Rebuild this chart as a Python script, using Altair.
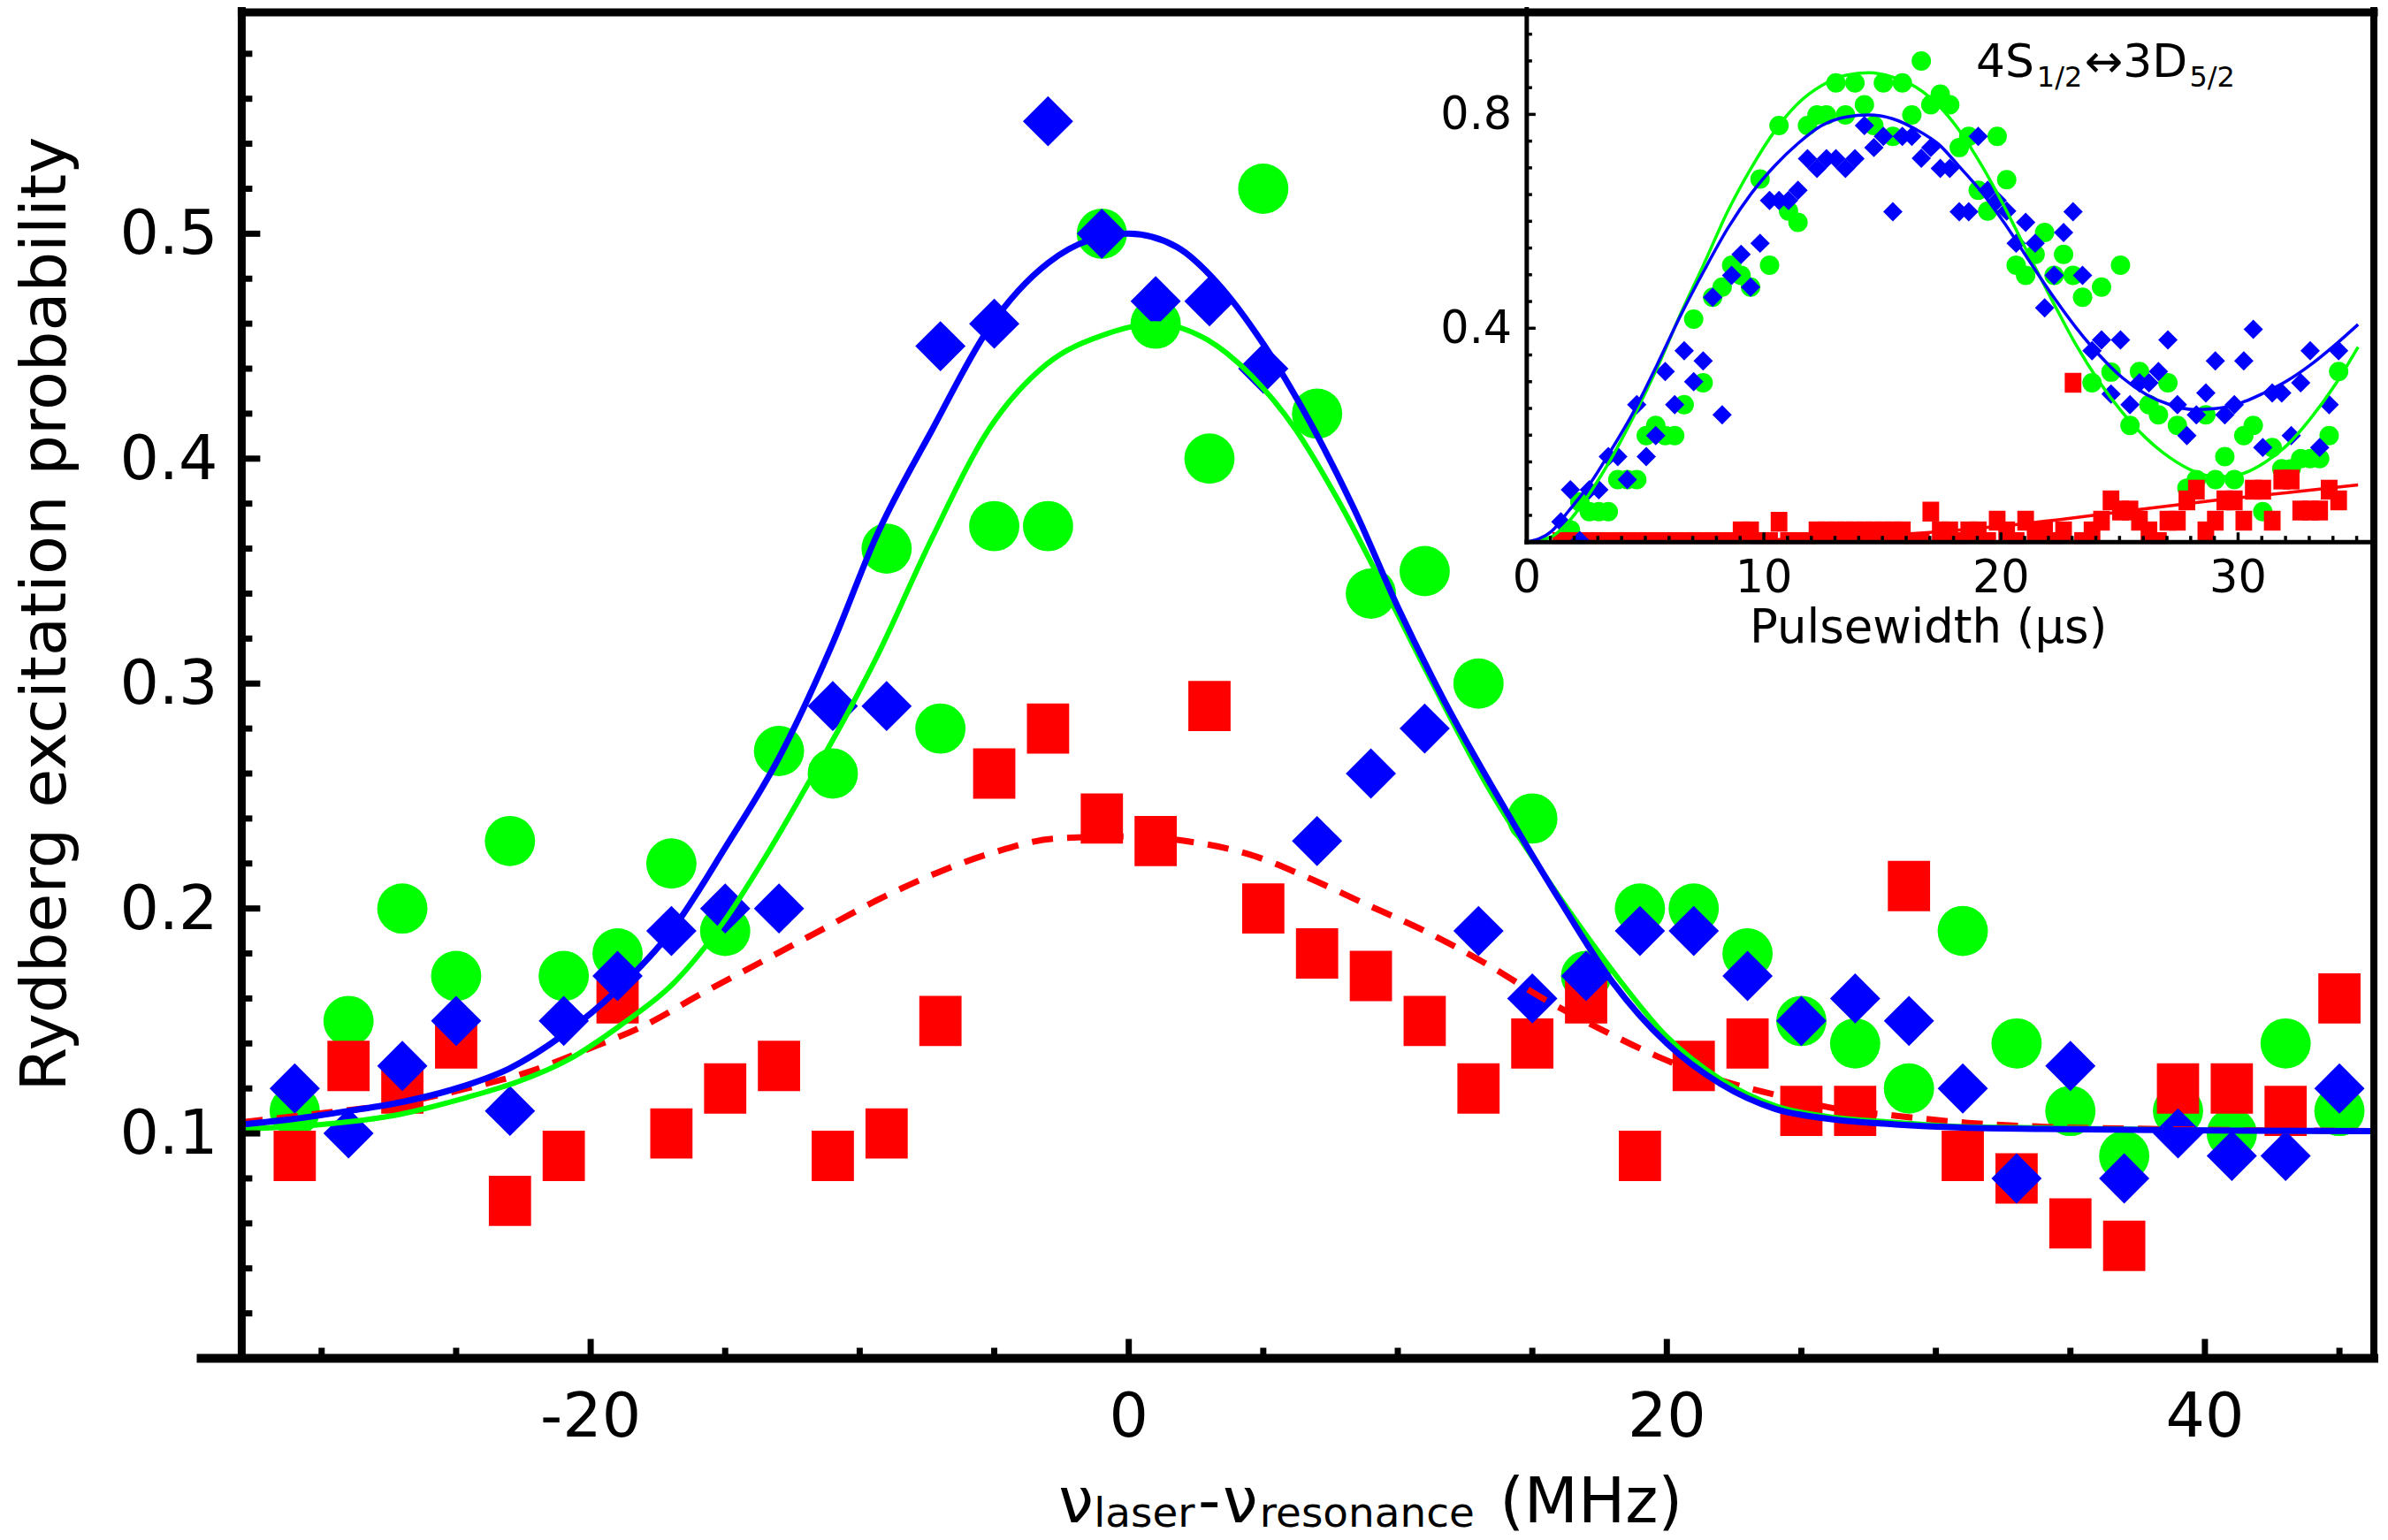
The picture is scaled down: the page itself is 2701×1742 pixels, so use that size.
import altair as alt
import pandas as pd

# ---------------- main panel: measured points ----------------
detuning = [-31, -29, -27, -25, -23, -21, -19, -17, -15, -13, -11, -9, -7, -5, -3, -1,
            1, 3, 5, 7, 9, 11, 13, 15, 17, 19, 21, 23, 25, 27, 29, 31, 33, 35, 37, 39, 41, 43, 45]
prob_green = [0.11, 0.15, 0.20, 0.17, 0.23, 0.17, 0.18, 0.22, 0.19, 0.27, 0.26, 0.36, 0.28, 0.37, 0.37, 0.50,
              0.46, 0.40, 0.52, 0.42, 0.34, 0.35, 0.30, 0.24, 0.17, 0.20, 0.20, 0.18, 0.15, 0.14, 0.12, 0.19,
              0.14, 0.11, 0.09, 0.11, 0.10, 0.14, 0.11]
prob_blue = [0.12, 0.10, 0.13, 0.15, 0.11, 0.15, 0.17, 0.19, 0.20, 0.20, 0.29, 0.29, 0.45, 0.46, 0.55, 0.50,
             0.47, 0.47, 0.44, 0.23, 0.26, 0.28, 0.19, 0.16, 0.17, 0.19, 0.19, 0.17, 0.15, 0.16, 0.15, 0.12,
             0.08, 0.13, 0.08, 0.10, 0.09, 0.09, 0.12]
prob_red = [0.09, 0.13, 0.12, 0.14, 0.07, 0.09, 0.16, 0.10, 0.12, 0.13, 0.09, 0.10, 0.15, 0.26, 0.28, 0.24,
            0.23, 0.29, 0.20, 0.18, 0.17, 0.15, 0.12, 0.14, 0.16, 0.09, 0.13, 0.14, 0.11, 0.11, 0.21, 0.09,
            0.08, 0.06, 0.05, 0.12, 0.12, 0.11, 0.16]

# ---------------- main panel: fitted curves ----------------
fit_blue_x = [-32.97, -31, -29, -27, -25, -23, -21, -19, -17, -15, -13, -11, -9.4, -7.3, -5.2, -3, -1.5, 0,
              1.8, 3.3, 5, 6.7, 8.4, 10, 11.7, 14, 16, 18, 20, 22, 24, 26, 28.5, 31, 34, 39, 46.28]
fit_blue_y = [0.104, 0.1065, 0.110, 0.114, 0.120, 0.129, 0.144, 0.164, 0.190, 0.227, 0.267, 0.318, 0.365,
              0.413, 0.458, 0.487, 0.497, 0.500, 0.494, 0.478, 0.451, 0.417, 0.377, 0.334, 0.293, 0.244,
              0.204, 0.167, 0.140, 0.122, 0.111, 0.1065, 0.104, 0.1026, 0.102, 0.1014, 0.101]
fit_green_x = [-32.97, -30, -27.3, -24.6, -22.7, -20.8, -18.9, -16.9, -15, -13.4, -11.8, -10.4, -9.4, -7.3,
               -5.2, -3.05, -0.94, 0.96, 2.9, 4.55, 6.2, 7.9, 9.6, 11.3, 13.4, 15.9, 18, 20, 22, 24.1, 26.3,
               28.4, 31, 33.9, 39, 46.28]
fit_green_y = [0.102, 0.104, 0.108, 0.116, 0.123, 0.133, 0.148, 0.167, 0.195, 0.225, 0.258, 0.288, 0.311,
               0.365, 0.413, 0.442, 0.455, 0.460, 0.453, 0.437, 0.413, 0.379, 0.340, 0.300, 0.253, 0.207,
               0.172, 0.143, 0.124, 0.112, 0.107, 0.105, 0.103, 0.1025, 0.1015, 0.101]
fit_red_x = [-32.97, -30, -27.3, -24.6, -22.4, -20.2, -18, -15.9, -13.7, -11.5, -9.3, -7.1, -5, -2.8, -0.3,
             2.1, 4.5, 6.7, 8.8, 11, 13.2, 15.4, 17.6, 19.7, 21.9, 24.1, 26.3, 28.4, 31.2, 33.9, 38, 46.28]
fit_red_y = [0.105, 0.109, 0.113, 0.120, 0.127, 0.137, 0.148, 0.162, 0.176, 0.190, 0.204, 0.216, 0.225,
             0.231, 0.232, 0.230, 0.224, 0.2135, 0.202, 0.190, 0.176, 0.160, 0.146, 0.134, 0.124, 0.117,
             0.111, 0.108, 0.1047, 0.103, 0.102, 0.101]

# ---------------- inset: Rabi oscillation data ----------------
pulse_t = [1.44, 1.84, 2.24, 2.64, 3.04, 3.44, 3.84, 4.24, 4.64, 5.04, 5.44, 5.84, 6.24, 6.64, 7.04, 7.44,
           7.84, 8.24, 8.64, 9.04, 9.44, 9.84, 10.24, 10.64, 11.04, 11.44, 11.84, 12.24, 12.64, 13.04, 13.44,
           13.84, 14.24, 14.64, 15.04, 15.44, 15.84, 16.24, 16.64, 17.04, 17.44, 17.84, 18.24, 18.64, 19.04,
           19.44, 19.84, 20.24, 20.64, 21.04, 21.44, 21.84, 22.24, 22.64, 23.04, 23.44, 23.84, 24.24, 24.64,
           25.04, 25.44, 25.84, 26.24, 26.64, 27.04, 27.44, 27.84, 28.24, 28.64, 29.04, 29.44, 29.84, 30.24,
           30.64, 31.04, 31.44, 31.84, 32.24, 32.64, 33.04, 33.44, 33.84, 34.24]
inset_blue = [0.038, 0.098, 0.003, 0.098, 0.098, 0.160, 0.160, 0.117, 0.257, 0.160,
              0.199, 0.319, 0.257, 0.358, 0.300, 0.339, 0.458, 0.238, 0.499, 0.538,
              0.477, 0.559, 0.639, 0.639, 0.639, 0.658, 0.717, 0.699, 0.717, 0.717,
              0.699, 0.717, 0.779, 0.738, 0.759, 0.618, 0.759, 0.759, 0.718, 0.738,
              0.699, 0.699, 0.618, 0.618, 0.759, 0.658, 0.639, 0.619, 0.559, 0.598,
              0.559, 0.438, 0.499, 0.579, 0.618, 0.499, 0.358, 0.378, 0.277, 0.378,
              0.257, 0.298, 0.298, 0.319, 0.378, 0.257, 0.199, 0.238, 0.279, 0.339,
              0.238, 0.257, 0.339, 0.398, 0.177, 0.279, 0.279, 0.199, 0.298, 0.358,
              0.177, 0.257, 0.358]
inset_green = [None, 0.023, 0.075, 0.057, 0.057, 0.057, 0.117, 0.117, 0.117, 0.199,
               0.218, 0.199, 0.199, 0.257, 0.417, 0.298, 0.458, 0.477, 0.518, 0.499,
               0.477, 0.679, 0.518, 0.779, 0.619, 0.598, 0.779, 0.799, 0.799, 0.859,
               0.799, 0.859, 0.818, 0.779, 0.859, 0.759, 0.859, 0.799, 0.900, 0.818,
               0.838, 0.818, 0.738, 0.759, 0.658, 0.619, 0.759, 0.678, 0.518, 0.499,
               0.538, 0.579, 0.499, 0.538, 0.499, 0.458, 0.298, 0.477, 0.318, 0.518,
               0.218, 0.319, 0.257, 0.238, 0.298, 0.218, 0.101, 0.117, 0.238, 0.117,
               0.160, 0.117, 0.199, 0.218, 0.057, 0.177, 0.137, 0.137, 0.156, 0.156,
               0.156, 0.199, 0.319]
inset_red = [0.0, 0.0, 0.0, 0.0, 0.0, 0.0, 0.0, 0.0, 0.0, 0.0,
             0.0, 0.0, 0.0, 0.0, 0.0, 0.0, 0.0, 0.0, 0.0, 0.02,
             0.02, 0.0, 0.0, 0.038, 0.0, 0.0, 0.0, 0.02, 0.02, 0.02,
             0.02, 0.02, 0.02, 0.02, 0.02, 0.02, 0.02, 0.0, 0.0, 0.057,
             0.02, 0.02, 0.0, 0.02, 0.02, 0.0, 0.04, 0.02, 0.0, 0.04,
             0.02, 0.02, 0.0, 0.02, 0.298, 0.0, 0.02, 0.04, 0.078, 0.059,
             0.059, 0.04, 0.02, 0.0, 0.04, 0.04, 0.078, 0.098, 0.02, 0.04,
             0.078, 0.078, 0.04, 0.098, 0.098, 0.04, 0.117, 0.117, 0.059, 0.059,
             0.059, 0.098, 0.078]

fit_in_t = [0, 1.04, 1.78, 2.65, 3.52, 4.51, 5.5, 6.49, 7.48, 8.48, 9.47, 10.46, 11.45, 12.44, 13.44, 14.43,
            15.42, 16.41, 17.4, 18.19, 19.18, 20.17, 21.16, 22.16, 23.15, 24.14, 25.13, 26.13, 27.12, 28.11,
            29.1, 30.1, 31.09, 32.08, 33.07, 34.07, 35.06]
fit_in_blue = [0, 0.02, 0.059, 0.108, 0.169, 0.244, 0.332, 0.424, 0.508, 0.587, 0.652, 0.704, 0.746, 0.779,
               0.795, 0.799, 0.792, 0.772, 0.743, 0.705, 0.655, 0.595, 0.528, 0.462, 0.402, 0.350, 0.307,
               0.276, 0.257, 0.248, 0.250, 0.260, 0.279, 0.302, 0.332, 0.368, 0.407]
fit_in_green = [0, 0.01, 0.039, 0.091, 0.153, 0.235, 0.326, 0.427, 0.521, 0.619, 0.700, 0.769, 0.821, 0.854,
                0.873, 0.878, 0.870, 0.851, 0.815, 0.773, 0.705, 0.625, 0.538, 0.452, 0.370, 0.300, 0.242,
                0.194, 0.158, 0.133, 0.122, 0.127, 0.148, 0.182, 0.232, 0.293, 0.365]
fit_in_red_t = [0, 5, 10, 14, 17, 20, 23, 26, 29, 32, 35.06]
fit_in_red = [0.0, 0.001, 0.004, 0.010, 0.018, 0.030, 0.045, 0.062, 0.078, 0.092, 0.107]

# ---------------- ticks and labels ----------------
main_y_major = [0.1, 0.2, 0.3, 0.4, 0.5]
main_y_labels = ["0.1", "0.2", "0.3", "0.4", "0.5"]
main_y_minor = [0.02, 0.04, 0.06, 0.08, 0.12, 0.14, 0.16, 0.18, 0.22, 0.24, 0.26, 0.28, 0.32, 0.34, 0.36,
                0.38, 0.42, 0.44, 0.46, 0.48, 0.52, 0.54, 0.56, 0.58]
main_x_major = [-20, 0, 20, 40]
main_x_labels = ["-20", "0", "20", "40"]
main_x_minor = [-30, -25, -15, -10, -5, 5, 10, 15, 25, 30, 35, 45]
inset_y_major = [0.4, 0.8]
inset_y_labels = ["0.4", "0.8"]
inset_y_minor = [0.05, 0.1, 0.15, 0.2, 0.25, 0.3, 0.35, 0.45, 0.5, 0.55, 0.6, 0.65, 0.7, 0.75, 0.85, 0.9, 0.95]
inset_x_major = [10, 20, 30]
inset_x_label_vals = [0, 10, 20, 30]
inset_x_labels = ["0", "10", "20", "30"]
inset_x_minor = [1, 2, 3, 4, 5, 6, 7, 8, 9, 11, 12, 13, 14, 15, 16, 17, 18, 19, 21, 22, 23, 24, 25, 26,
                 27, 28, 29, 31, 32, 33, 34, 35]

y_title = "Rydberg excitation probability"
x_title_parts = ["ν", "laser", "-", "ν", "resonance", "(MHz)"]
inset_title = "Pulsewidth (µs)"
inset_state_parts = ["4S", "1/2", "↔3D", "5/2"]

# ---------------- styling / geometry ----------------
W, H = 2417, 1530
FONT = "DejaVu Sans"
GREEN, BLUE, RED = "#00ff00", "#0000ff", "#ff0000"
RECT = "M-0.84,-1L0.84,-1L0.84,1L-0.84,1Z"

SX = alt.Scale(domain=[-32.97, 46.28], nice=False, zero=False)
SY = alt.Scale(domain=[0, 0.6], nice=False, zero=False)
IX0, IY0 = 1456.7, 604.6
IX = alt.Scale(domain=[0, 35], range=[IX0, 2397.5], nice=False, zero=False)
IY = alt.Scale(domain=[0, 1], range=[IY0, -1.5], nice=False, zero=False)

ONE = alt.Data(values=[{"k": 0}])


def enc(sx, sy):
    return dict(x=alt.X("x:Q", scale=sx, axis=None), y=alt.Y("y:Q", scale=sy, axis=None))


def points(xs, ys, shape, size, color, sx, sy):
    df = pd.DataFrame({"x": xs, "y": ys}).dropna()
    return alt.Chart(df).mark_point(shape=shape, size=size, filled=True, color=color, fill=color,
                                    opacity=1, fillOpacity=1, strokeWidth=0).encode(**enc(sx, sy))


def curve(xs, ys, color, width, sx, sy, dash=None):
    df = pd.DataFrame({"x": xs, "y": ys})
    kw = dict(color=color, strokeWidth=width, interpolate="monotone")
    if dash:
        kw["strokeDash"] = dash
    return alt.Chart(df).mark_line(**kw).encode(**enc(sx, sy))


def seg(x1, y1, x2, y2, width, cap="square"):
    return alt.Chart(ONE).mark_rule(color="black", strokeWidth=width, strokeCap=cap).encode(
        x=alt.value(x1), y=alt.value(y1), x2=alt.value(x2), y2=alt.value(y2))


def yticks(vals, sy, x0, length, width):
    return alt.Chart(pd.DataFrame({"v": vals})).mark_rule(color="black", strokeWidth=width).encode(
        y=alt.Y("v:Q", scale=sy, axis=None), x=alt.value(x0), x2=alt.value(x0 + length))


def xticks(vals, sx, y0, length, width):
    return alt.Chart(pd.DataFrame({"v": vals})).mark_rule(color="black", strokeWidth=width).encode(
        x=alt.X("v:Q", scale=sx, axis=None), y=alt.value(y0), y2=alt.value(y0 - length))


def ylabels(vals, texts, sy, x, font, size):
    df = pd.DataFrame({"v": vals, "t": texts})
    return alt.Chart(df).mark_text(font=font, fontSize=size, align="right", baseline="middle",
                                   color="black", dy=2).encode(
        y=alt.Y("v:Q", scale=sy, axis=None), x=alt.value(x), text="t:N")


def xlabels(vals, texts, sx, y, font, size):
    df = pd.DataFrame({"v": vals, "t": texts})
    return alt.Chart(df).mark_text(font=font, fontSize=size, align="center", baseline="alphabetic",
                                   color="black").encode(
        x=alt.X("v:Q", scale=sx, axis=None), y=alt.value(y), text="t:N")


def label(text, x, y, font, size, align="left", baseline="alphabetic", angle=None):
    kw = dict(font=font, fontSize=size, align=align, baseline=baseline, color="black")
    if angle is not None:
        kw["angle"] = angle
    return alt.Chart(alt.Data(values=[{"t": text}])).mark_text(**kw).encode(
        x=alt.value(x), y=alt.value(y), text="t:N")


main_layers = [
    points(detuning, prob_green, "circle", 3249, GREEN, SX, SY),
    points(detuning, prob_red, RECT, 3249, RED, SX, SY),
    points(detuning, prob_blue, "diamond", 3249, BLUE, SX, SY),
    curve(fit_red_x, fit_red_y, RED, 7, SX, SY, dash=[24, 16]),
    curve(fit_green_x, fit_green_y, GREEN, 6, SX, SY),
    curve(fit_blue_x, fit_blue_y, BLUE, 7, SX, SY),
    seg(0, 0, 0, H, 9),
    seg(-46, H, W, H, 10),
    seg(0, 4, W, 4, 9),
    seg(W, 0, W, H, 8),
    yticks(main_y_major, SY, 0, 21, 7),
    yticks(main_y_minor, SY, 0, 12, 7),
    xticks(main_x_major, SX, H, 22, 7),
    xticks(main_x_minor, SX, H, 12, 7),
    ylabels(main_y_major, main_y_labels, SY, -27, FONT, 70),
    xlabels(main_x_major, main_x_labels, SX, 1619, FONT, 70),
    label(y_title, -200, 686, FONT, 72, align="center", angle=270),
    label(x_title_parts[0], 926, 1716, FONT, 71),
    label(x_title_parts[1], 966, 1721, FONT, 47),
    label(x_title_parts[2], 1084, 1716, FONT, 71),
    label(x_title_parts[3], 1112, 1716, FONT, 71),
    label(x_title_parts[4], 1154, 1721, FONT, 47),
    label(x_title_parts[5], 1426, 1716, FONT, 71),
]

inset_layers = [
    points(pulse_t, inset_green, "circle", 484, GREEN, IX, IY),
    points(pulse_t, inset_red, RECT, 506, RED, IX, IY),
    points(pulse_t, inset_blue, "diamond", 484, BLUE, IX, IY),
    curve(fit_in_t, fit_in_green, GREEN, 3.5, IX, IY),
    curve(fit_in_t, fit_in_blue, BLUE, 3.5, IX, IY),
    curve(fit_in_red_t, fit_in_red, RED, 3.5, IX, IY),
    alt.Chart(ONE).mark_rect(color="white").encode(
        x=alt.value(IX0 - 12), x2=alt.value(W - 5), y=alt.value(IY0 + 2), y2=alt.value(IY0 + 22)),
    seg(IX0, 0, IX0, IY0, 5),
    seg(IX0, IY0, W, IY0, 5),
    yticks(inset_y_major, IY, IX0, 10, 3.5),
    yticks(inset_y_minor, IY, IX0, 6, 3.5),
    xticks(inset_x_major, IX, IY0, 11, 3.5),
    xticks(inset_x_minor, IX, IY0, 7, 3.5),
    ylabels(inset_y_major, inset_y_labels, IY, 1440, FONT, 51),
    xlabels(inset_x_label_vals, inset_x_labels, IX, 662, FONT, 51),
    label(inset_title, 1912, 719, FONT, 53, align="center"),
    label(inset_state_parts[0], 1966, 77, FONT, 52),
    label(inset_state_parts[1], 2035, 88, FONT, 32),
    label(inset_state_parts[2], 2089, 77, FONT, 52),
    label(inset_state_parts[3], 2208, 88, FONT, 32),
]

main = alt.layer(*main_layers)
inset = alt.layer(*inset_layers)

chart = alt.layer(main, inset).resolve_scale(x="independent", y="independent").properties(
    width=W, height=H,
    padding={"left": 266, "top": 0, "right": 8, "bottom": 203},
    autosize=alt.AutoSizeParams(type="none"),
    background="white",
).configure_view(stroke=None)

chart.save("out.html", embed_options={"renderer": "svg", "actions": False})
